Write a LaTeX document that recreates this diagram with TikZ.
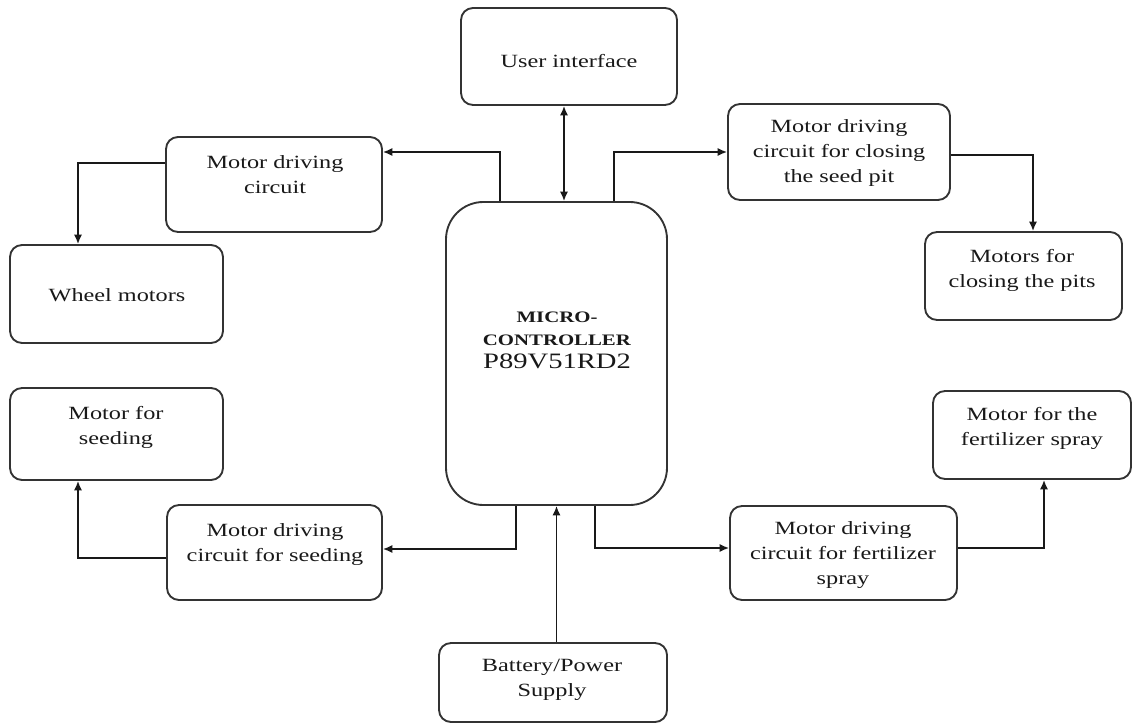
\documentclass[tikz,border=0pt]{standalone}
\usepackage{fontspec}
\setmainfont[FakeStretch=1.3]{Liberation Serif}
\usetikzlibrary{arrows.meta,calc}
\begin{document}
\begin{tikzpicture}[x=0.75pt,y=-0.75pt,
  sz/.style 2 args={minimum width=#1*0.75pt, minimum height=#2*0.75pt},
  box/.style={draw=black!80, line width=1.4pt, rounded corners=9pt, inner sep=0pt, fill=white},
  txt/.style={align=center, inner sep=0pt, font=\fontsize{14}{18.75}\selectfont, text=black!90},
  arr/.style={draw=black!90, line width=1.2pt, -{Latex[length=7pt,width=6pt]}},
  darr/.style={draw=black!90, line width=1.2pt, {Latex[length=7pt,width=6pt]}-{Latex[length=7pt,width=6pt]}}]
\useasboundingbox (0,0) rectangle (1134,723);
\fill[white] (0,0) rectangle (1134,723);

% boxes
\node[box, sz={216}{97}] (ui) at (569,56.5) {};
\node[box, sz={216}{95}] (mdc1) at (274,184.5) {};
\node[box, sz={213}{98}] (wm) at (116.5,294) {};
\node[box, sz={222}{96}] (cl) at (839,152) {};
\node[box, sz={197}{88}] (mp) at (1023.5,276) {};
\node[box, sz={213}{92}] (sm) at (116.5,434) {};
\node[box, sz={215}{95}] (ms) at (274.5,552.5) {};
\node[box, sz={221}{303}, rounded corners=28pt] (mc) at (556.5,353.5) {};
\node[box, sz={227}{94}] (fm) at (843.5,553) {};
\node[box, sz={198}{88}] (fs) at (1032,435) {};
\node[box, sz={228}{79}] (bat) at (553,682.5) {};

% texts
\node[txt] (uit) at (569,61) {User interface};
\node[txt] (mdc1t) at (275,175) {Motor driving\\circuit};
\node[txt] (wmt) at (117,295) {Wheel motors};
\node[txt] (clt) at (839,153) {Motor driving\\circuit for closing\\the seed pit};
\node[txt] (mpt) at (1022,270) {Motors for\\closing the pits};
\node[txt] (smt) at (116,427) {Motor for\\seeding};
\node[txt] (mst) at (275,545) {Motor driving\\circuit for seeding};
\node[txt, font=\fontsize{12}{17.25}\selectfont] (mct) at (557,340)
  {\textbf{MICRO-}\\\textbf{CONTROLLER}\\{\fontsize{16.5}{17.25}\selectfont P89V51RD2}};
\node[txt] (batt) at (552,680) {Battery/Power\\Supply};
\node[txt] (fmt) at (843,555) {Motor driving\\circuit for fertilizer\\spray};
\node[txt] (fst) at (1032,428) {Motor for the\\fertilizer spray};

% connectors
\draw[darr] ($(ui.south)+(-5,0)$) -- ($(mc.north)+(7.5,0)$);
\draw[arr] ($(mc.north)+(-56.5,0)$) |- ($(mdc1.east)+(0,-32.5)$);
\draw[arr] ($(mdc1.west)+(0,-21.5)$) -| ($(wm.north)+(-38.5,0)$);
\draw[arr] ($(mc.north)+(57.5,0)$) |- (cl.west);
\draw[arr] ($(cl.east)+(0,3)$) -| ($(mp.north)+(9.5,0)$);
\draw[arr] ($(mc.south)+(-40.5,0)$) |- ($(ms.east)+(0,-3.5)$);
\draw[arr] ($(ms.west)+(0,5.5)$) -| ($(sm.south)+(-38.5,0)$);
\draw[arr] ($(mc.south)+(38.5,0)$) |- ($(fm.west)+(0,-5)$);
\draw[arr] ($(fm.east)+(0,-5)$) -| ($(fs.south)+(12,0)$);
\draw[arr] (bat.north -| mc.south) -- (mc.south);
\end{tikzpicture}
\end{document}
